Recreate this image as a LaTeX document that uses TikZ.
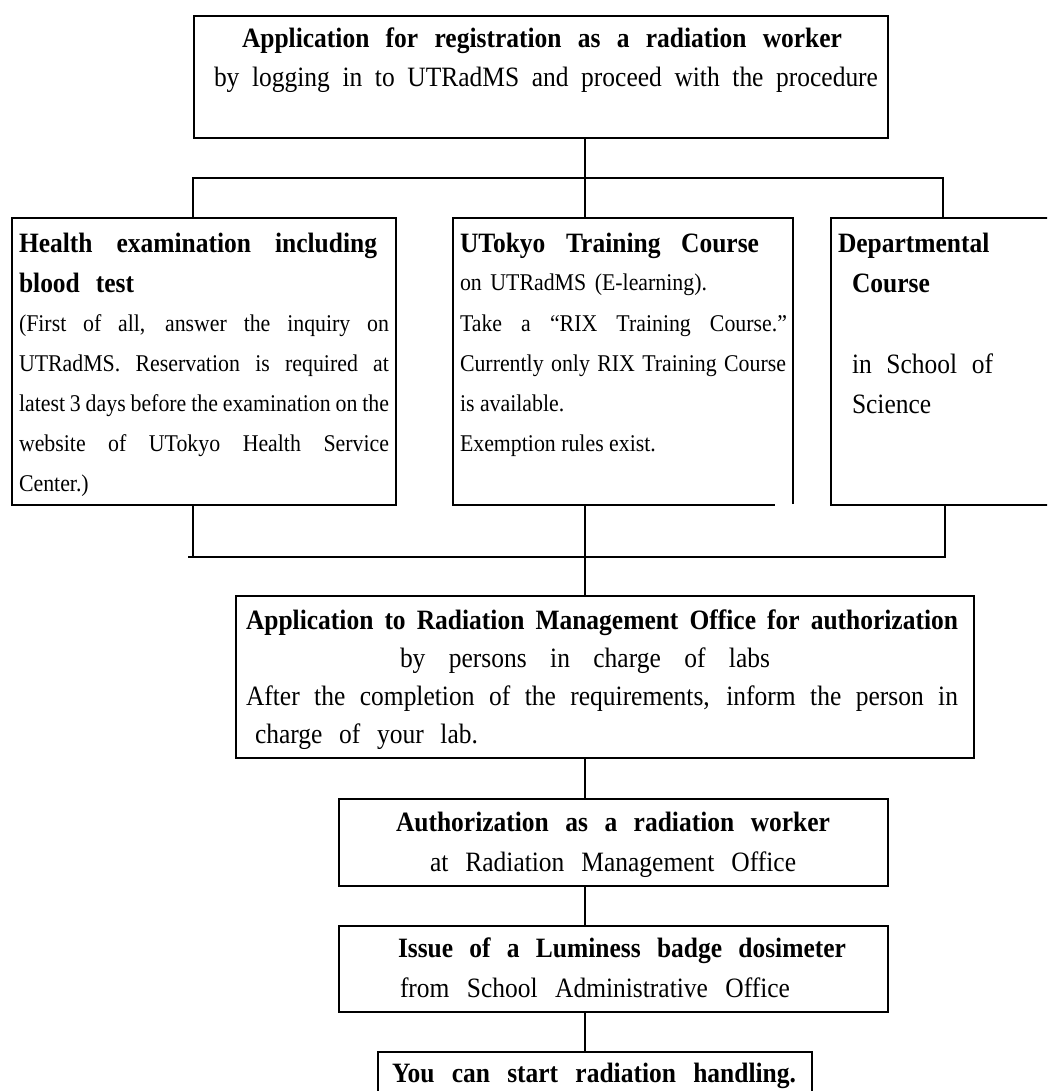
\documentclass[tikz,border=0pt]{standalone}
\usepackage{fontspec}
\setmainfont{Liberation Serif}[FakeStretch=0.91]
\usetikzlibrary{calc}
\newcommand\myB{\fontsize{28}{30}\selectfont\bfseries}
\newcommand\myR{\fontsize{28}{30}\selectfont}
\newcommand\myS{\fontsize{24}{28}\selectfont}
% name, x, baseline y, width, font, text
\newcommand\jline[6]{\node[txt] (#1) at (#2,#3) {#5\makebox[#4pt][s]{#6}};}
% name, x, baseline y, font, text
\newcommand\pline[5]{\node[txt] (#1) at (#2,#3) {#4#5};}
\begin{document}
\begin{tikzpicture}[x=1pt,y=-1pt,
  txt/.style={anchor=base west,inner sep=0pt,outer sep=0pt},
  boxst/.style={draw,line width=2pt,inner sep=0pt,outer sep=0pt,anchor=north west},
  conn/.style={line width=1.6pt}]
\fill[white] (0,0) rectangle (1047,1091);
\useasboundingbox (0,0) rectangle (1047,1091);
\clip (0,0) rectangle (1047,1091);

% boxes
\node[boxst,minimum width=694pt,minimum height=122pt] (top) at (194,16) {};
\node[boxst,minimum width=384pt,minimum height=287pt] (hb) at (12,218) {};
\node[boxst,draw=none,minimum width=340pt,minimum height=287pt] (tb) at (453,218) {};
\draw[line width=2pt] ($(tb.south east)+(0,-1)$) -- (tb.north east) -- (tb.north west) -- (tb.south west) -- ($(tb.south east)+(-18,0)$);
\node[boxst,minimum width=240pt,minimum height=287pt] (db) at (831,218) {};
\node[boxst,minimum width=738pt,minimum height=162pt] (mb) at (236,596) {};
\node[boxst,minimum width=549pt,minimum height=87pt] (ab) at (339,799) {};
\node[boxst,minimum width=549pt,minimum height=86pt] (ib) at (339,926) {};
\node[boxst,minimum width=434pt,minimum height=60pt] (lb) at (378,1052) {};

% connectors
\coordinate (b1) at (585,178);
\coordinate (bl) at (193,178);
\coordinate (br) at (943,178);
\draw[conn] (b1 |- top.south) -- (b1);
\draw[conn] (bl |- hb.north) -- (bl) -- (br) -- (br |- db.north);
\draw[conn] (b1) -- (b1 |- tb.north);
\coordinate (k1) at (585,557);
\coordinate (kl) at (188,557);
\coordinate (kh) at (193,557);
\coordinate (kr) at (945,557);
\draw[conn] (kh |- hb.south) -- (kh);
\draw[conn] (kl) -- (kr) -- (kr |- db.south);
\draw[conn] (k1 |- tb.south) -- (k1 |- mb.north);
\draw[conn] (k1 |- mb.south) -- (k1 |- ab.north);
\draw[conn] (k1 |- ab.south) -- (k1 |- ib.north);
\draw[conn] (k1 |- ib.south) -- (k1 |- lb.north);

% texts: top box
\jline{t1}{242}{48}{600}{\myB}{Application for registration as a radiation worker}
\jline{t2}{214}{87}{664}{\myR}{by logging in to UTRadMS and proceed with the procedure}

% health box
\jline{h1}{19}{252}{358}{\myB}{Health examination including}
\jline{h2}{19}{292}{115}{\myB}{blood test}
\jline{h3}{19}{331}{370}{\myS}{(First of all, answer the inquiry on}
\jline{h4}{19}{371}{370}{\myS}{UTRadMS. Reservation is required at}
\jline{h5}{19}{411}{370}{\myS}{latest 3 days before the examination on the}
\jline{h6}{19}{451}{370}{\myS}{website of UTokyo Health Service}
\pline{h7}{19}{491}{\myS}{Center.)}

% training box
\jline{r1}{460}{252}{299}{\myB}{UTokyo Training Course}
\jline{r2}{460}{290}{247}{\myS}{on UTRadMS (E-learning).}
\jline{r3}{460}{331}{327}{\myS}{Take a “RIX Training Course.”}
\jline{r4}{460}{371}{326}{\myS}{Currently only RIX Training Course}
\pline{r5}{460}{411}{\myS}{is available.}
\pline{r6}{460}{451}{\myS}{Exemption rules exist.}

% departmental box
\pline{d1}{838}{252}{\myB}{Departmental}
\pline{d2}{852}{292}{\myB}{Course}
\jline{d3}{852}{373}{141}{\myR}{in School of}
\pline{d4}{852}{413}{\myR}{Science}

% middle box
\jline{m1}{246}{629}{712}{\myB}{Application to Radiation Management Office for authorization}
\jline{m2}{400}{667}{370}{\myR}{by persons in charge of labs}
\jline{m3}{246}{705}{712}{\myR}{After the completion of the requirements, inform the person in}
\jline{m4}{255}{743}{223}{\myR}{charge of your lab.}

% authorization box
\jline{a1}{396}{831}{434}{\myB}{Authorization as a radiation worker}
\jline{a2}{430}{871}{366}{\myR}{at Radiation Management Office}

% issue box
\jline{i1}{398}{957}{448}{\myB}{Issue of a Luminess badge dosimeter}
\jline{i2}{400}{997}{390}{\myR}{from School Administrative Office}

% last box
\jline{l1}{392}{1082}{404}{\myB}{You can start radiation handling.}
\end{tikzpicture}
\end{document}
